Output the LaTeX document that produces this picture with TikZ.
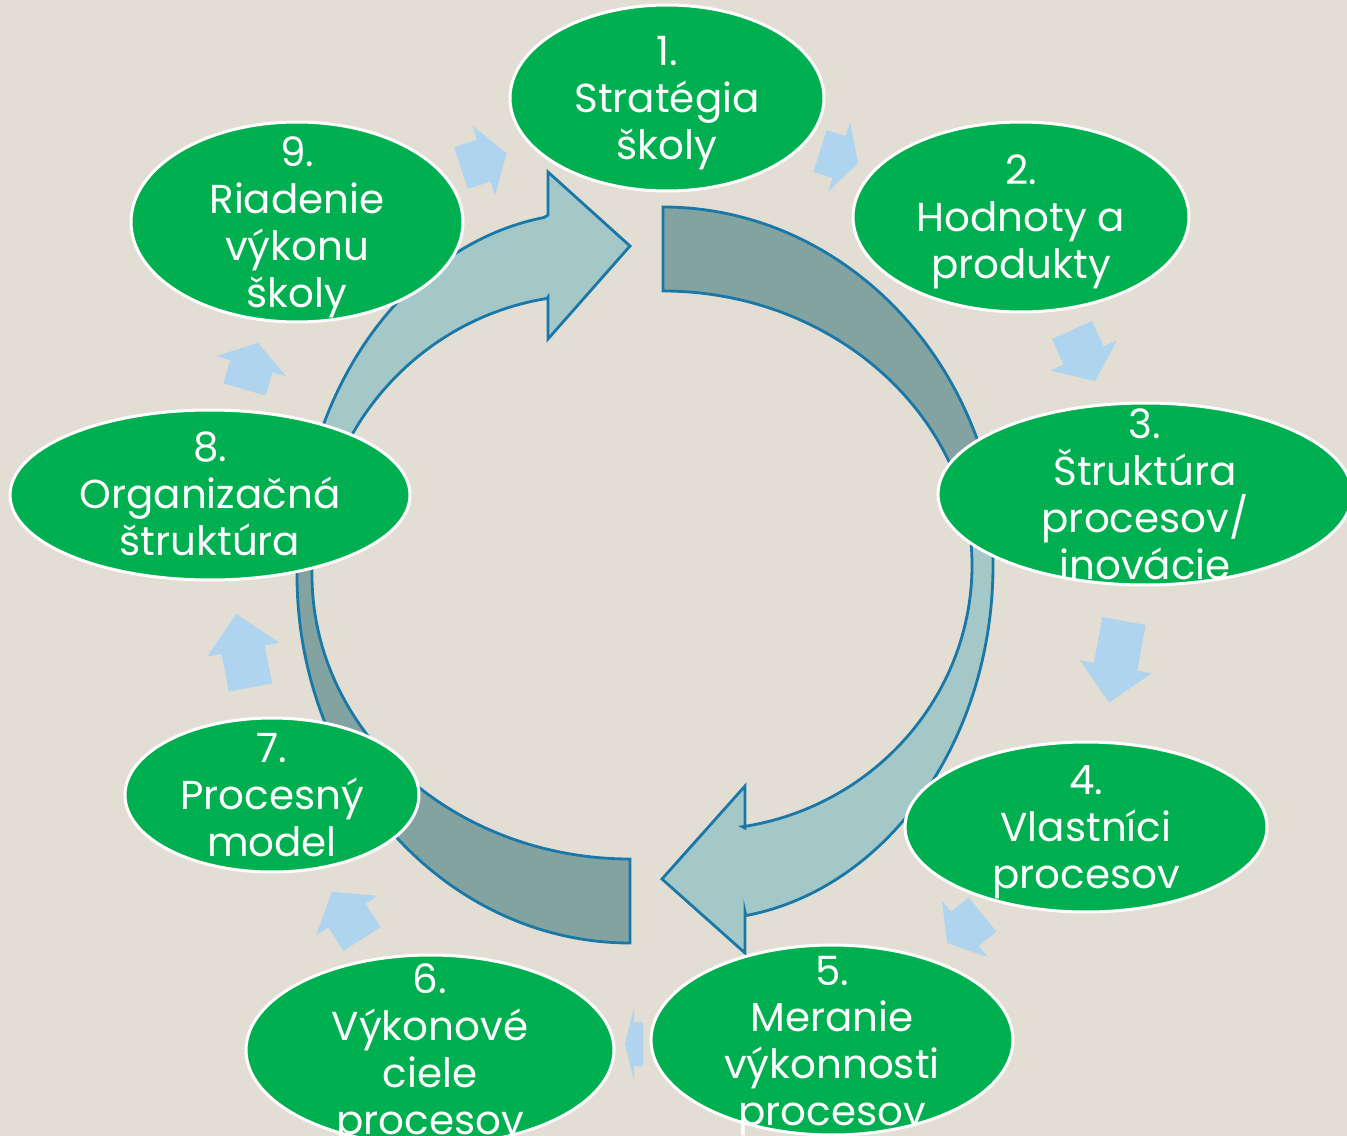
\documentclass[tikz,border=0pt]{standalone}
\usepackage{fontspec}
\setmainfont{Poppins}
\usepackage{tikz}
\usetikzlibrary{
  shapes.geometric,
  positioning,
  calc
}
\definecolor{cyBack}{HTML}{E3DED3}
\definecolor{cyGreen}{HTML}{00B050}
\definecolor{cyDark}{HTML}{82A3A0}
\definecolor{cyLight}{HTML}{A3C8C7}
\definecolor{cyEdge}{HTML}{1A78A8}
\definecolor{cyStep}{HTML}{AED4F0}
\tikzset{
  stage/.style={
    ellipse, draw=white, line width=1.7pt, fill=cyGreen, inner sep=0pt
  },
  stagetext/.style={
    text=white, align=center, inner sep=0pt,
    font=\fontsize{23}{26.7}\selectfont
  },
  band/.style={draw=cyEdge, line width=1.6pt, line join=miter},
  darkband/.style={band, fill=cyDark},
  lightband/.style={band, fill=cyLight},
  steparrow/.style={fill=cyStep}
}

\begin{document}
\begin{tikzpicture}[x=0.02cm, y=-0.02cm]
  \useasboundingbox (0,0) rectangle (1347,1136);
  \fill[cyBack] (0,0) rectangle (1347,1136);

  % big cycle arrows
  \draw[darkband] ({663+338*cos(-90)},{575+368*sin(-90)})
    arc[start angle=-90, end angle=-15, x radius=338, y radius=368]
    -- ({663+312*cos(-15)},{575+284*sin(-15)})
    arc[start angle=-15, end angle=-90, x radius=312, y radius=284] -- cycle;
  \draw[lightband] ({700+293*cos(-5)},{565+355*sin(-5)})
    arc[start angle=-5, end angle=81, x radius=293, y radius=355]
    -- (745,912) -- (745,953) -- (662,879) -- (745,786) -- (745,828)
    -- ({700+272*cos(81)},{565+265*sin(81)})
    arc[start angle=81, end angle=-5, x radius=272, y radius=265] -- cycle;
  \draw[darkband] (630,943)
    arc[start angle=90, end angle=190, x radius=333, y radius=368]
    -- ({630+318*cos(190)},{575+284*sin(190)})
    arc[start angle=190, end angle=90, x radius=318, y radius=284] -- cycle;
  \draw[lightband] ({590+293*cos(195)},{575+362*sin(195)})
    arc[start angle=195, end angle=261, x radius=293, y radius=362]
    -- (548,215) -- (548,172) -- (630,246) -- (548,339) -- (548,297)
    -- ({590+275*cos(261)},{575+280*sin(261)})
    arc[start angle=261, end angle=195, x radius=275, y radius=280] -- cycle;

  % small arrows between the stages
  \foreach \x/\y/\a/\l in {
    461/168/18/48, 820/151/-17.5/40, 1072/330/-65.7/56,
    1124/621/-100.4/83, 982.5/914.5/-141/45.5, 643/1044/-180/18,
    362/939/122.5/56, 250.5/687.5/101/75, 244.5/389.5/73.8/48.5}{
    \pgfmathsetmacro{\hl}{0.5*min(\l,73)}
    \fill[steparrow, shift={(\x,\y)}, rotate=\a]
      (0,-22) -- ({\l-\hl},-22) -- ({\l-\hl},-36.5) -- (\l,0)
      -- ({\l-\hl},36.5) -- ({\l-\hl},22) -- (0,22) -- cycle;
  }

  % stages
  \foreach \n/\x/\y/\d/\w/\h/\txt in {
    1/667/98/5/6.28/3.72/{1.\\Stratégia\\školy},
    2/1021/217/5/6.72/3.8/{2.\\Hodnoty a\\produkty},
    3/1145/494/0/8.28/3.64/{3.\\Štruktúra\\procesov/\\inovácie},
    4/1086/827/5/7.24/3.4/{4.\\Vlastníci\\procesov},
    5/832/1040/6/7.24/3.8/{5.\\Meranie\\výkonnosti\\procesov},
    6/430/1050/4/7.36/3.8/{6.\\Výkonové\\ciele\\procesov},
    7/272/795/0/5.88/3.08/{7.\\Procesný\\model},
    8/210/495/-1/8.0/3.4/{8.\\Organizačná\\štruktúra},
    9/297/222/5/6.64/4.0/{9.\\Riadenie\\výkonu\\školy}}{
    \node[stage, minimum width=\w cm, minimum height=\h cm] (s\n) at (\x,\y) {};
    \node[stagetext] (t\n) at (\x,\y+\d) {\txt};
  }
\end{tikzpicture}
\end{document}
